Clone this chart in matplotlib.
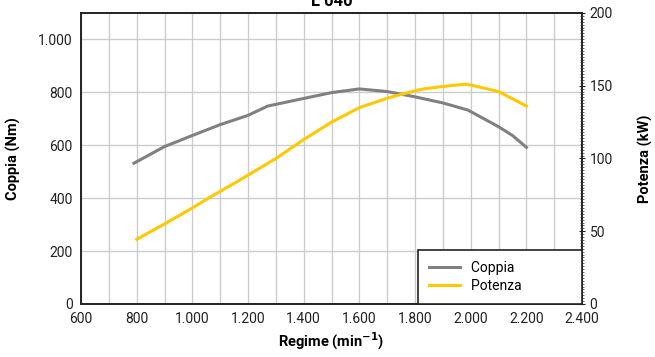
import matplotlib
matplotlib.use('Agg')
import matplotlib.pyplot as plt
from matplotlib.ticker import MultipleLocator, FuncFormatter

plt.rcParams['font.family'] = ['Roboto', 'DejaVu Sans']

title = 'L 040'
rpm_coppia = [790, 900, 1000, 1100, 1200, 1270, 1400, 1500, 1600, 1700, 1800, 1900, 1990, 2100, 2150, 2200]
coppia = [532, 595, 637, 678, 713, 748, 777, 799, 813, 803, 783, 760, 733, 670, 637, 592]
rpm_potenza = [800, 900, 1000, 1060, 1160, 1300, 1400, 1500, 1600, 1710, 1820, 1900, 1975, 2000, 2100, 2200]
potenza = [44.5, 55, 66, 73, 84, 100, 113, 125, 135, 142, 147.5, 149.5, 151, 150.5, 146, 136]

def dot_thousands(v, pos):
    return f'{int(v):,}'.replace(',', '.')

fig = plt.figure(figsize=(6.55, 3.57), dpi=100)
ax = fig.add_axes([0.1237, 0.1485, 0.765, 0.8151])
ax2 = ax.twinx()

ax.plot(rpm_coppia, coppia, color='#808080', lw=2.2, label='Coppia', zorder=3)
ax2.plot(rpm_potenza, potenza, color='#FFC800', lw=2.2, label='Potenza', zorder=3)

ax.set_xlim(600, 2400)
ax.set_ylim(0, 1100)
ax2.set_ylim(0, 200)

ax.set_xticks(range(600, 2401, 200))
ax.xaxis.set_minor_locator(MultipleLocator(100))
ax.set_yticks(range(0, 1001, 200))
ax.xaxis.set_major_formatter(FuncFormatter(dot_thousands))
ax.yaxis.set_major_formatter(FuncFormatter(dot_thousands))
ax.grid(True, which='both', axis='x', color='#cccccc', lw=1)
ax.grid(True, which='major', axis='y', color='#cccccc', lw=1)
ax.set_axisbelow(True)

ax.tick_params(axis='both', which='both', length=0, labelsize=10, colors='#222222', pad=6)
ax2.set_yticks(range(0, 201, 50))
ax2.yaxis.set_minor_locator(MultipleLocator(2))
ax2.tick_params(axis='y', which='major', length=5, direction='inout', labelsize=10, colors='#222222', pad=3)
ax2.tick_params(axis='y', which='minor', length=3, width=0.6, direction='inout', color='#555555')

for a in (ax, ax2):
    for s in a.spines.values():
        s.set_color('#222222')
        s.set_linewidth(1.2)

ax.set_xlabel('Regime (min$^{\\mathbf{-1}}$)', fontsize=10.5, fontweight='bold', labelpad=3)
ax.set_ylabel('Coppia (Nm)', fontsize=10.5, fontweight='bold', labelpad=12)
ax2.set_ylabel('Potenza (kW)', fontsize=10.5, fontweight='bold', labelpad=18)
ax.set_title(title, fontsize=12, fontweight='bold', pad=5)

h1, l1 = ax.get_legend_handles_labels()
h2, l2 = ax2.get_legend_handles_labels()
leg = ax2.legend(h1 + h2, l1 + l2, loc='lower right', bbox_to_anchor=(1.0, 0.0),
                 borderaxespad=0, fancybox=False, framealpha=1, edgecolor='#222222',
                 fontsize=10, handlelength=2.2, borderpad=0.8, labelspacing=0.3)
leg.get_frame().set_linewidth(1.2)
leg.set_zorder(5)
# widen legend to match box in reference
for t in leg.get_texts():
    t.set_text(t.get_text() + '\u2003' * 3 + '\u2002')

fig.savefig('out.png', dpi=100)
